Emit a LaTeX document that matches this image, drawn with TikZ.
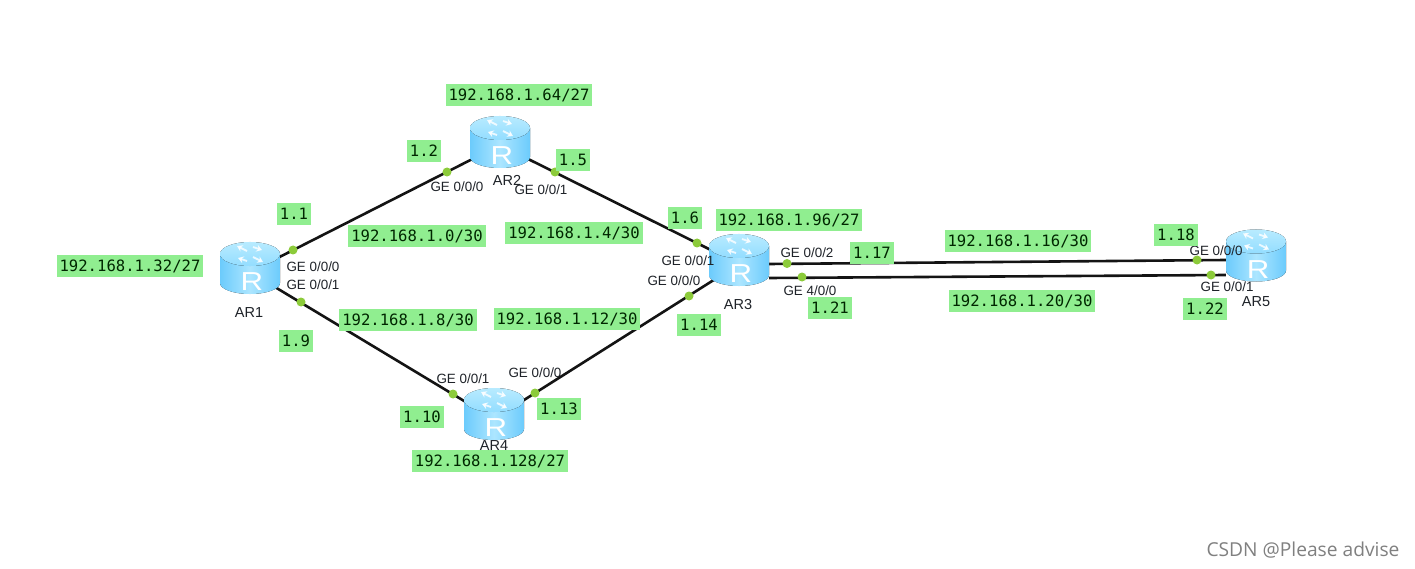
\documentclass[tikz,border=0pt]{standalone}
\usepackage{fontspec}
\setmainfont{Liberation Sans}
\newfontfamily\monof{DejaVu Sans Mono}
\newfontfamily\markf{Open Sans}
\usetikzlibrary{arrows.meta}
\definecolor{lbl}{HTML}{90EE90}
\definecolor{dotc}{HTML}{8CCB3A}
\definecolor{rdark}{HTML}{6CCBFC}
\definecolor{rmid}{HTML}{ACE6FF}
\definecolor{rtopa}{HTML}{93DDFF}
\definecolor{rtopb}{HTML}{B8EBFF}
\definecolor{linkc}{HTML}{141414}
\definecolor{txtc}{HTML}{1E2228}
\tikzset{
  greenlabel/.style={fill=lbl,inner sep=0pt,inner xsep=3pt,minimum height=22pt,text=black!85!green,
    font=\monof\fontsize{15.6}{18}\selectfont,text height=11.5pt,text depth=1pt},
  portlabel/.style={inner sep=0pt,text=txtc,font=\fontsize{13.4}{15}\selectfont},
  routername/.style={inner sep=0pt,text=txtc,font=\fontsize{14.5}{16}\selectfont},
  routernode/.style={inner sep=0pt,minimum width=60pt,minimum height=52pt},
  portdot/.style={circle,fill=dotc,inner sep=0pt,minimum size=9pt},
  link/.style={draw=linkc,line width=2.6pt},
  router/.pic={
    \fill[left color=rdark,right color=rdark,middle color=rmid]
      (-30,-14) -- (-30,15) arc[start angle=180,end angle=0,x radius=30,y radius=11] -- (30,-14) -- cycle;
    \fill[top color=rtopb,bottom color=rtopa] (0,-14) ellipse[x radius=30,y radius=12];
    \node[inner sep=0pt,text=white,xscale=1.2,font=\fontsize{26}{26}\selectfont] at (2,14) {R};
    \foreach \a/\b/\c/\d in {-3/-17/-13/-22, 3/-21/12/-18, 3/-11/13/-6, -3/-7/-12/-10}{
      \draw[white,opacity=.8,line width=1.8pt,-{Stealth[length=5.5pt,width=7pt]}] (\a,\b) -- (\c,\d);
    }
  }
}
\begin{document}
\begin{tikzpicture}[x=1pt,y=-1pt]
\useasboundingbox[fill=white] (0,0) rectangle (1415,569);
% router anchor nodes
\node[routernode] (AR1) at (250,272) {};
\node[routernode] (AR2) at (500,145) {};
\node[routernode] (AR3) at (739,264) {};
\node[routernode] (AR4) at (494,419) {};
\node[routernode] (AR5) at (1256,262) {};
% connectors
\draw[link] (AR1.center) -- (AR2.center);
\draw[link] (AR2.center) -- (AR3.center);
\draw[link] (AR1.center) -- (AR4.center);
\draw[link] (AR4.center) -- (AR3.center);
\draw[link] (AR3.east) -- ([yshift=2pt]AR5.west);
\draw[link] ([yshift=-14pt]AR3.east) -- ([yshift=-13pt]AR5.west);
% routers
\pic at (250,268) {router};
\pic at (500,142) {router};
\pic at (739,260) {router};
\pic at (494,414) {router};
\pic at (1256,255.5) {router};
% port dots
\node[portdot] (d1) at (293,250) {};
\node[portdot] (d2) at (301,302) {};
\node[portdot] (d3) at (447,172) {};
\node[portdot] (d4) at (555,172) {};
\node[portdot] (d5) at (697,243) {};
\node[portdot] (d6) at (689,296) {};
\node[portdot] (d7) at (453,394) {};
\node[portdot] (d8) at (535,393) {};
\node[portdot] (d9) at (787,263.5) {};
\node[portdot] (d10) at (802,277) {};
\node[portdot] (d11) at (1197,260) {};
\node[portdot] (d12) at (1211,275) {};
% router names
\node[routername] (n1) at (249,313) {AR1};
\node[routername] (n2) at (507,180) {AR2};
\node[routername] (n3) at (738,305) {AR3};
\node[routername] (n4) at (494,446) {AR4};
\node[routername] (n5) at (1256,302) {AR5};
% port labels
\node[portlabel] (p1) at (313,267) {GE 0/0/0};
\node[portlabel] (p2) at (313,285) {GE 0/0/1};
\node[portlabel] (p3) at (457,187) {GE 0/0/0};
\node[portlabel] (p4) at (541,190) {GE 0/0/1};
\node[portlabel] (p5) at (688,261) {GE 0/0/1};
\node[portlabel] (p6) at (674,281) {GE 0/0/0};
\node[portlabel] (p7) at (807,253) {GE 0/0/2};
\node[portlabel] (p8) at (810,291) {GE 4/0/0};
\node[portlabel] (p9) at (1216,251) {GE 0/0/0};
\node[portlabel] (p10) at (1227,287) {GE 0/0/1};
\node[portlabel] (p11) at (463,379) {GE 0/0/1};
\node[portlabel] (p12) at (535,373) {GE 0/0/0};
% green labels
\node[greenlabel] (g1) at (519,95) {192.168.1.64/27};
\node[greenlabel] (g2) at (424,151) {1.2};
\node[greenlabel] (g3) at (573,160) {1.5};
\node[greenlabel] (g4) at (294,214) {1.1};
\node[greenlabel] (g5) at (417,236) {192.168.1.0/30};
\node[greenlabel] (g6) at (574,233) {192.168.1.4/30};
\node[greenlabel] (g7) at (685,218) {1.6};
\node[greenlabel] (g8) at (789,220) {192.168.1.96/27};
\node[greenlabel] (g9) at (872,253) {1.17};
\node[greenlabel] (g10) at (1018,241) {192.168.1.16/30};
\node[greenlabel] (g11) at (1176,235) {1.18};
\node[greenlabel] (g12) at (1022,301) {192.168.1.20/30};
\node[greenlabel] (g13) at (1205,309) {1.22};
\node[greenlabel] (g14) at (830,308) {1.21};
\node[greenlabel] (g15) at (699,325) {1.14};
\node[greenlabel] (g16) at (567,319) {192.168.1.12/30};
\node[greenlabel] (g17) at (408,320) {192.168.1.8/30};
\node[greenlabel] (g18) at (296,341) {1.9};
\node[greenlabel] (g19) at (130,266) {192.168.1.32/27};
\node[greenlabel] (g20) at (422,417) {1.10};
\node[greenlabel] (g21) at (559,409) {1.13};
\node[greenlabel] (g22) at (490,461) {192.168.1.128/27};
% watermark
\node[inner sep=0pt,text=black!50,font=\markf\fontsize{19.2}{21}\selectfont] (wm) at (1303,550) {CSDN @Please advise};
\end{tikzpicture}
\end{document}
